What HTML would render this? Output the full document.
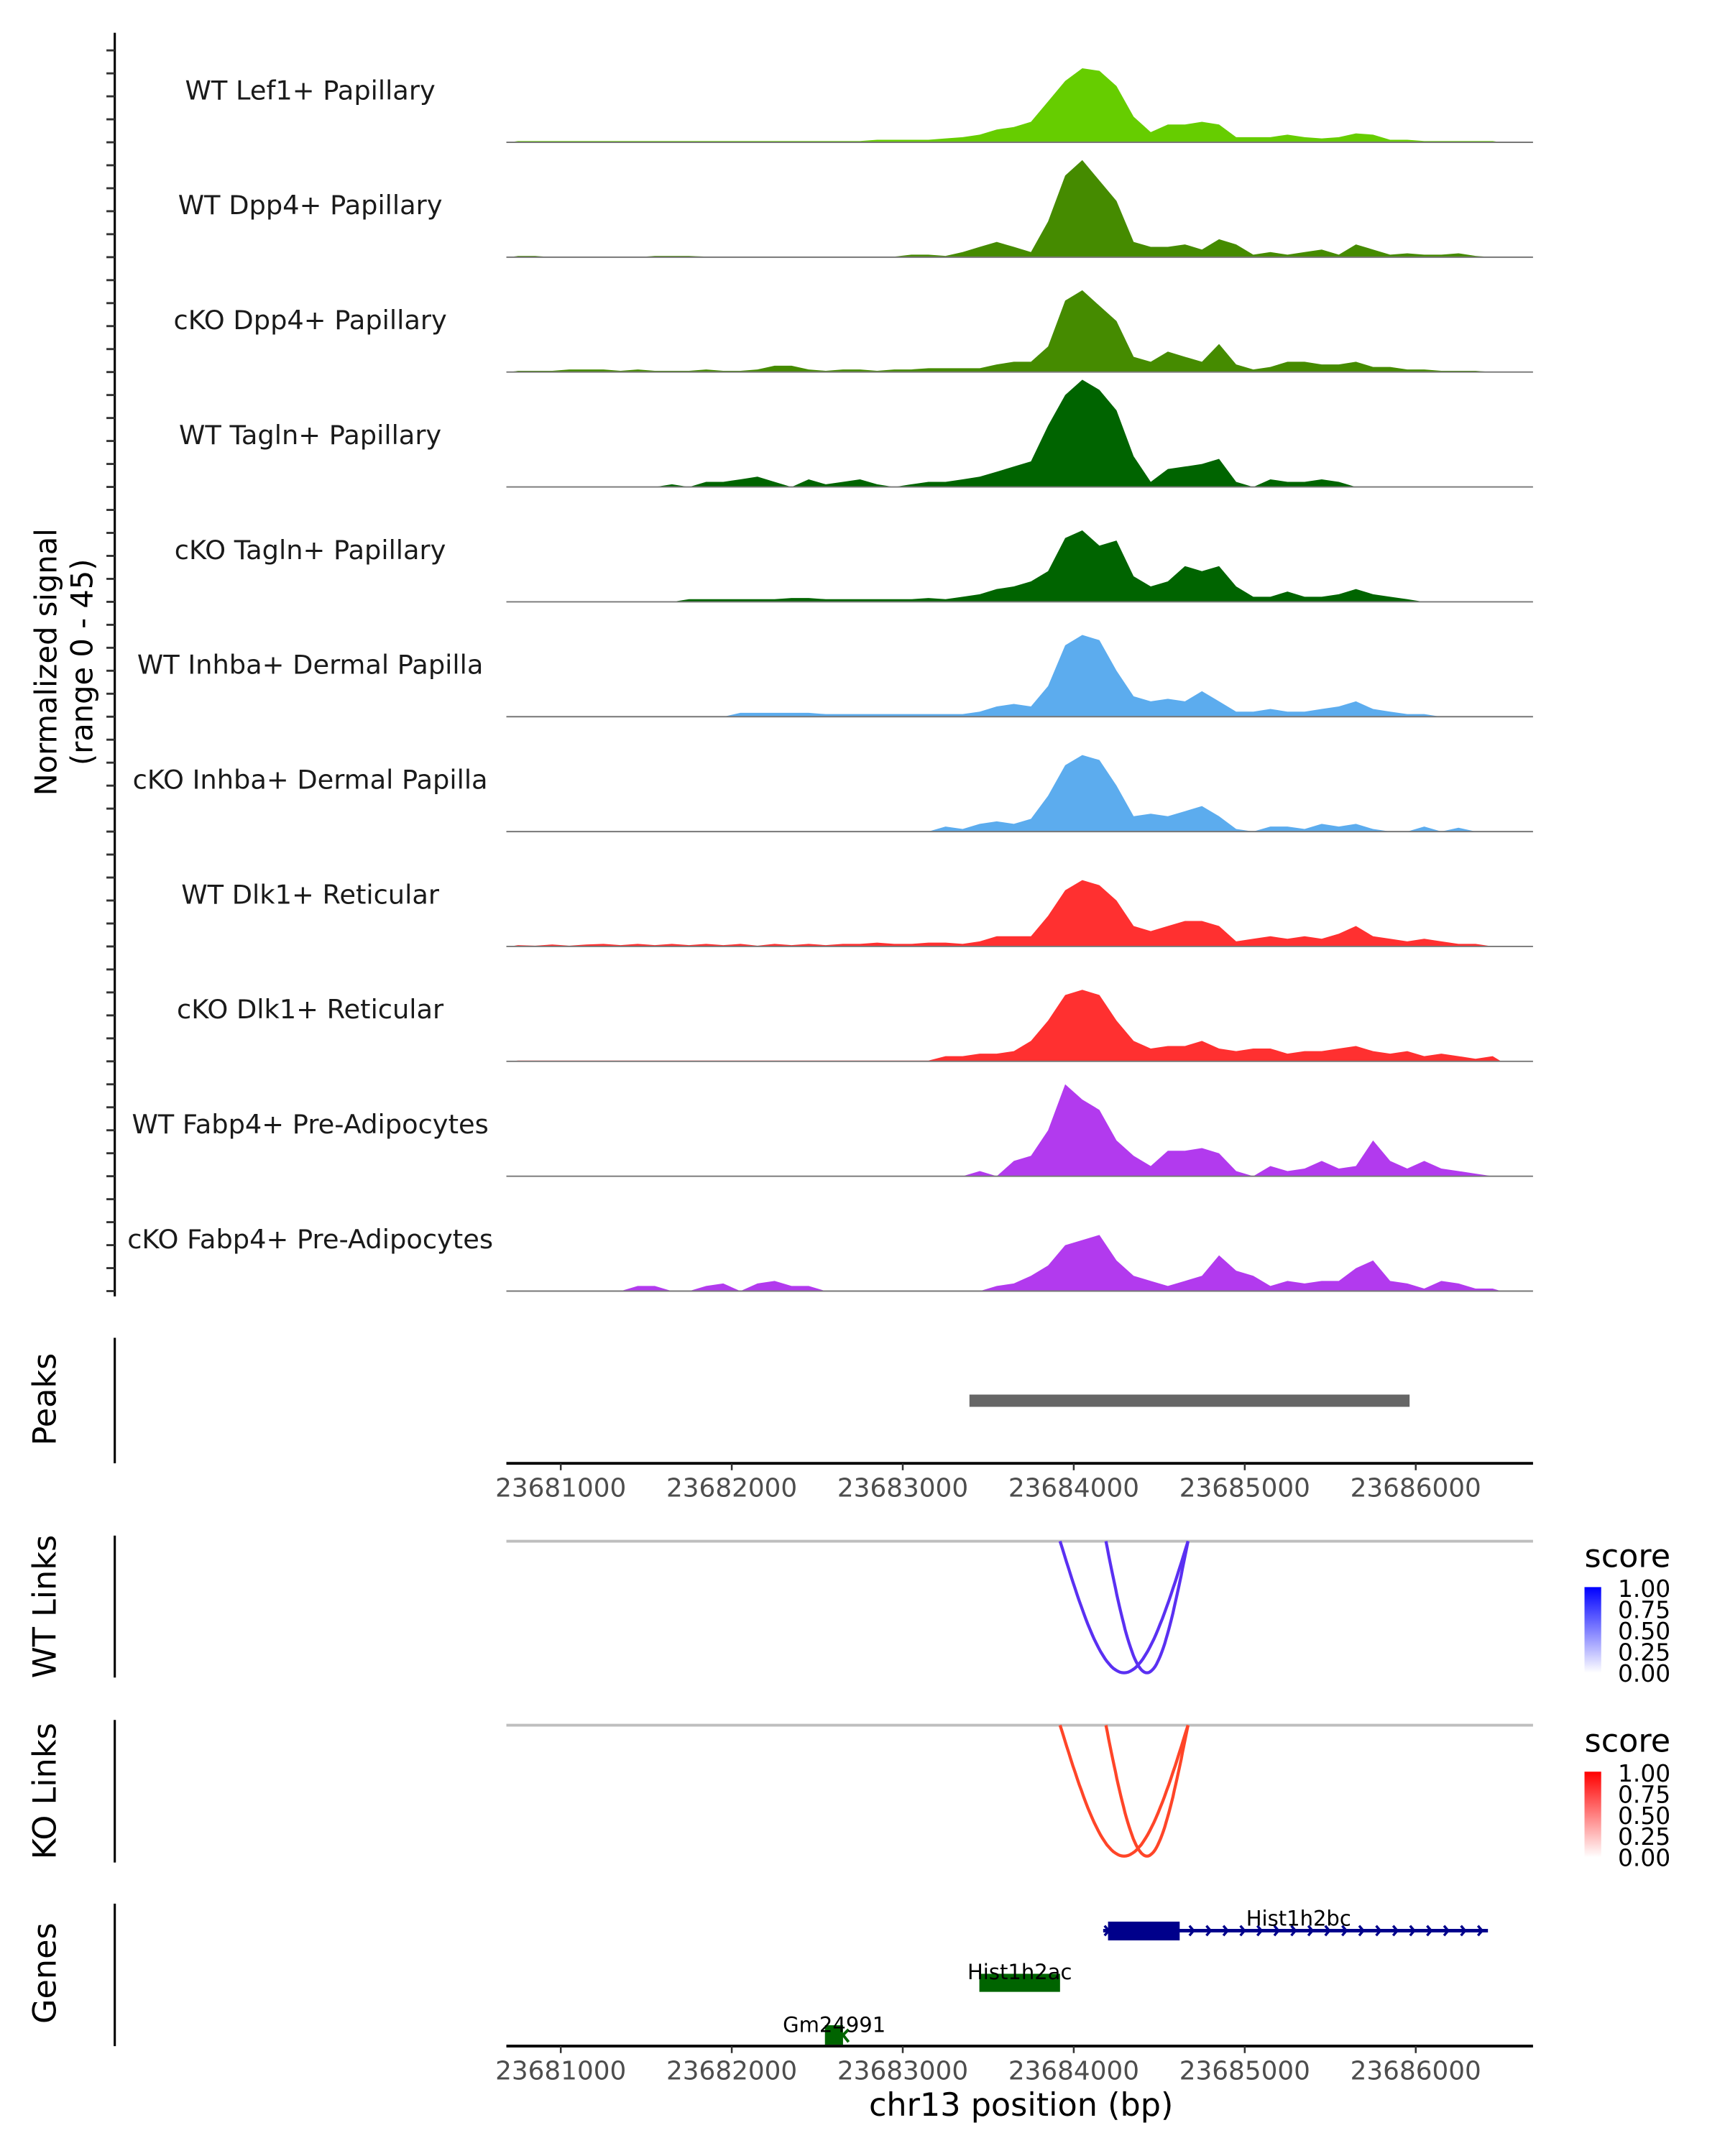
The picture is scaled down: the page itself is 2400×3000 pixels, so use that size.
<!DOCTYPE html>
<html><head><meta charset="utf-8"><style>
html,body{margin:0;padding:0;background:#fff}
svg{display:block}
text{font-family:"DejaVu Sans","Liberation Sans",sans-serif}
</style></head><body>
<svg id="chart" width="2400" height="3000" viewBox="0 0 1240 1550" xmlns="http://www.w3.org/2000/svg">
<g id="tracks"></g>
<g id="rest"></g>
</svg>
<script>
const trackLabels = ["WT Lef1+ Papillary","WT Dpp4+ Papillary","cKO Dpp4+ Papillary","WT Tagln+ Papillary","cKO Tagln+ Papillary","WT Inhba+ Dermal Papilla","cKO Inhba+ Dermal Papilla","WT Dlk1+ Reticular","cKO Dlk1+ Reticular","WT Fabp4+ Pre-Adipocytes","cKO Fabp4+ Pre-Adipocytes"];
const trackColors = ["#66cd00","#458b00","#458b00","#006400","#006400","#5cacee","#5cacee","#ff3030","#ff3030","#b23aee","#b23aee"];
const binStart = 23680700;
const binSize = 100;
const sigLef1 = [0.5,0.5,0.5,0.5,0.5,0.5,0.5,0.5,0.5,0.5,0.5,0.5,0.5,0.5,0.5,0.5,0.5,0.5,0.5,0.5,0.5,1,1,1,1,1.5,2,3,5,6,8,16,24,29,28,22,10,4,7,7,8,7,2,2,2,3,2,1.5,2,3.5,3,1,1,0.5,0.5,0.5,0.5,0.5];
const sigDpp4WT = [0.5,0.5,0,0,0,0,0,0,0.5,0.5,0.5,0.2,0.2,0.2,0.2,0.2,0.2,0.2,0.2,0.2,0.2,0.2,0.2,1,1,0.5,2,4,6,4,2,14,32,38,30,22,6,4,4,5,3,7,5,1,2,1,2,3,1,5,3,1,1.5,1,1,1.5,0.5,0];
const sigDpp4KO = [0.5,0.5,0.5,1,1,1,0.5,1,0.5,0.5,0.5,1,0.5,0.5,1,2.5,2.5,1,0.5,1,1,0.5,1,1,1.5,1.5,1.5,1.5,3,4,4,10,28,32,26,20,6,4,8,6,4,11,3,1,2,4,4,3,3,4,2,2,1,1,0.5,0.5,0.5,0];
const sigTaglnWT = [0,0,0,0,0,0,0,0,0,1,0,2,2,3,4,2,0,3,1,2,3,1,0,1,2,2,3,4,6,8,10,24,36,42,38,30,12,2,7,8,9,11,2,0,3,2,2,3,2,0,0,0,0,0,0,0,0,0];
const sigTaglnKO = [0,0,0,0,0,0,0,0,0,0,1,1,1,1,1,1,1.5,1.5,1,1,1,1,1,1,1.5,1,2,3,5,6,8,12,25,28,22,24,10,6,8,14,12,14,6,2,2,4,2,2,3,5,3,2,1,0,0,0,0,0];
const sigInhbaWT = [0,0,0,0,0,0,0,0,0,0,0,0,0,1.5,1.5,1.5,1.5,1.5,1,1,1,1,1,1,1,1,1,2,4,5,4,12,28,32,30,18,8,6,7,6,10,6,2,2,3,2,2,3,4,6,3,2,1,1,0,0,0,0];
const sigInhbaKO = [0,0,0,0,0,0,0,0,0,0,0,0,0,0,0,0,0,0,0,0,0,0,0,0,0,2,1,3,4,3,5,14,26,30,28,18,6,7,6,8,10,6,1,0,2,2,1,3,2,3,1,0,0,2,0,1.5,0,0];
const sigDlk1WT = [0.5,0.3,0.8,0.3,0.8,1,0.5,1,0.5,1,0.5,1,0.5,1,0.3,1,0.5,1,0.5,1,1,1.5,1,1,1.5,1.5,1,2,4,4,4,12,22,26,24,18,8,6,8,10,10,8,2,3,4,3,4,3,5,8,4,3,2,3,2,1,1,0];
const sigDlk1KO = [0.3,0.3,0.3,0.3,0.3,0.3,0.3,0.3,0.3,0.3,0.3,0.3,0.3,0.3,0.3,0.3,0.3,0.3,0.3,0.3,0.3,0.3,0.3,0.3,0.3,2,2,3,3,4,8,16,26,28,26,16,8,5,6,6,8,5,4,5,5,3,4,4,5,6,4,3,4,2,3,2,1,2];
const sigFabp4WT = [0,0,0,0,0,0,0,0,0,0,0,0,0,0,0,0,0,0,0,0,0,0,0,0,0,0,0,2,0,6,8,18,36,30,26,14,8,4,10,10,11,9,2,0,4,2,3,6,3,4,14,6,3,6,3,2,1,0];
const sigFabp4KO = [0,0,0,0,0,0,0,2,2,0,0,2,3,0,3,4,2,2,0,0,0,0,0,0,0,0,0,0,2,3,6,10,18,20,22,12,6,4,2,4,6,14,8,6,2,4,3,4,4,9,12,4,3,1,4,3,1,1];
const trackSignals = [sigLef1,sigDpp4WT,sigDpp4KO,sigTaglnWT,sigTaglnKO,sigInhbaWT,sigInhbaKO,sigDlk1WT,sigDlk1KO,sigFabp4WT,sigFabp4KO];
const xTicks = [23681000,23682000,23683000,23684000,23685000,23686000];
const peakStart = 23683390, peakEnd = 23685964;
const wtLinkStarts = [23683920,23684188];
const wtLinkEnds = [23684668,23684668];
const koLinkStarts = [23683920,23684188];
const koLinkEnds = [23684668,23684668];
const legendTicks = ["1.00","0.75","0.50","0.25","0.00"];

const NS="http://www.w3.org/2000/svg";
const X0=364, X1=1102;
function xs(bp){return 403.1+(bp-23681000)*0.12292;}
const yMax=45, trackH=82.6, step=82.59, base0=102.3;
function mk(tag,attrs,parent){const e=document.createElementNS(NS,tag);for(const k in attrs)e.setAttribute(k,attrs[k]);parent.appendChild(e);return e;}
const G=document.getElementById('tracks');
const R=document.getElementById('rest');

let ax=mk('line',{x1:82.5,y1:23.6,x2:82.5,y2:932,stroke:'#000','stroke-width':1.6},G);


for(let k=0;k<55;k++){
  const y=928.2-k*step/5;
  const t=mk('line',{x1:76.5,y1:y,x2:82.5,y2:y,stroke:'#333','stroke-width':1.5},G);
  
  
}
let yt=mk('text',{x:0,y:0,'font-size':21.5,'text-anchor':'middle',transform:'translate(40.5,476) rotate(-90)',fill:'#000'},G);


yt.innerHTML='<tspan x="0" dy="0">Normalized signal</tspan><tspan x="0" dy="25.8">(range 0 - 45)</tspan>';

trackSignals.forEach((sig,i)=>{
  const base=base0+i*step;
  const g=mk('g',{},G);
  
  
  let d='M'+xs(binStart)+','+base;
  sig.forEach((v,j)=>{const x=xs(binStart+j*binSize+binSize/2);d+=' L'+x.toFixed(1)+','+(base-v/yMax*trackH).toFixed(1);});
  d+=' L'+xs(binStart+sig.length*binSize)+','+base+' Z';
  const a=mk('path',{d:d,fill:trackColors[i],stroke:'none'},g);
  
  
  const bl=mk('line',{x1:X0,y1:base,x2:X1,y2:base,stroke:'#777','stroke-width':1},g);
  
  
  const lb=mk('text',{x:223,y:base-30.8,'font-size':19,'text-anchor':'middle',fill:'#1a1a1a'},g);
  
  
  lb.textContent=trackLabels[i];
});

function vaxis(y1,y2,label,cy,name){
  const l=mk('line',{x1:82.5,y1:y1,x2:82.5,y2:y2,stroke:'#000','stroke-width':1.6},R);
  
  
  const t=mk('text',{x:0,y:0,'font-size':23,'text-anchor':'middle',transform:'translate(40,'+cy+') rotate(-90)'},R);
  
  
  t.textContent=label;
}
function xaxis(y,name){
  const l=mk('line',{x1:X0,y1:y,x2:X1,y2:y,stroke:'#000','stroke-width':2},R);
  
  
  xTicks.forEach(v=>{
    const t=mk('line',{x1:xs(v),y1:y,x2:xs(v),y2:y+5,stroke:'#333','stroke-width':1.3},R);
    
    
    const lb=mk('text',{x:xs(v),y:y+24,'font-size':18.5,'text-anchor':'middle',fill:'#4d4d4d'},R);
    
    
    lb.textContent=v;
  });
}
vaxis(961.8,1052,'Peaks',1006,'peaks');
const pk=mk('rect',{x:xs(peakStart),y:1002.6,width:xs(peakEnd)-xs(peakStart),height:8.8,fill:'#666'},R);


xaxis(1052,'peaks-x-axis');

function links(starts,ends,top,bot,color,name){
  const gl=mk('line',{x1:X0,y1:top,x2:X1,y2:top,stroke:'#bebebe','stroke-width':2},R);
  
  
  starts.forEach((s,i)=>{
    const xa=xs(s), xb=xs(ends[i]);
    let d='';
    for(let k=0;k<=60;k++){const t=k/60;const x=xa+(xb-xa)*t;const y=top+(bot-top)*Math.sin(Math.PI*t);d+=(k?' L':'M')+x.toFixed(1)+','+y.toFixed(1);}
    const p=mk('path',{d:d,fill:'none',stroke:color,'stroke-width':2.2},R);
    
    
  });
}
function legend(y,c1,name){
  const t=mk('text',{x:1139,y:y,'font-size':23},R);
  
  
  t.textContent='score';
  const gid=name+'grad';
  const defs=mk('defs',{},R);
  const lg=mk('linearGradient',{id:gid,x1:0,y1:1,x2:0,y2:0},defs);
  mk('stop',{offset:0,'stop-color':'#ffffff'},lg);
  mk('stop',{offset:1,'stop-color':c1},lg);
  const r=mk('rect',{x:1139,y:y+14.4,width:12,height:61.6,fill:'url(#'+gid+')'},R);
  
  
  legendTicks.forEach((lbl,i)=>{
    const tt=mk('text',{x:1163,y:y+21.5+i*15.2,'font-size':17},R);
    
    
    tt.textContent=lbl;
  });
}
vaxis(1104,1206,'WT Links',1155,'wt-links');
links(wtLinkStarts,wtLinkEnds,1108,1202.6,'#5a30f2','wt-link');
legend(1126.6,'#0000ff','wt-score');
vaxis(1236.5,1339,'KO Links',1287.7,'ko-links');
links(koLinkStarts,koLinkEnds,1240.3,1334.4,'#ff4528','ko-link');
legend(1259.3,'#ff0000','ko-score');

vaxis(1368.6,1471,'Genes',1418.6,'genes');
const gg=mk('g',{},R);


mk('line',{x1:793,y1:1388,x2:1069.6,y2:1388,stroke:'#00008b','stroke-width':2.5},gg);
mk('rect',{x:796.5,y:1381.5,width:51.5,height:13.5,fill:'#00008b'},gg);
for(let x=797;x<=1070;x+=12.2){mk('path',{d:`M${x-3},${1384.5} L${x},${1388} L${x-3},${1391.5}`,fill:'none',stroke:'#00008b','stroke-width':1.8},gg);}
let t1=mk('text',{x:933.5,y:1384.4,'font-size':15,'text-anchor':'middle'},gg);t1.textContent='Hist1h2bc';
const g2=mk('g',{},R);


mk('rect',{x:704,y:1419,width:58,height:13,fill:'#006400'},g2);
let t2=mk('text',{x:733,y:1423,'font-size':15,'text-anchor':'middle'},g2);t2.textContent='Hist1h2ac';
const g3=mk('g',{},R);


mk('rect',{x:593,y:1456,width:13,height:14,fill:'#006400'},g3);
mk('path',{d:'M610,1459 L606,1463 L610,1468',fill:'none',stroke:'#006400','stroke-width':2},g3);
let t3=mk('text',{x:599.7,y:1461,'font-size':15,'text-anchor':'middle'},g3);t3.textContent='Gm24991';
xaxis(1471,'genes-x-axis');
const xt=mk('text',{x:734,y:1521,'font-size':23,'text-anchor':'middle'},R);


xt.textContent='chr13 position (bp)';
</script>
</body></html>
